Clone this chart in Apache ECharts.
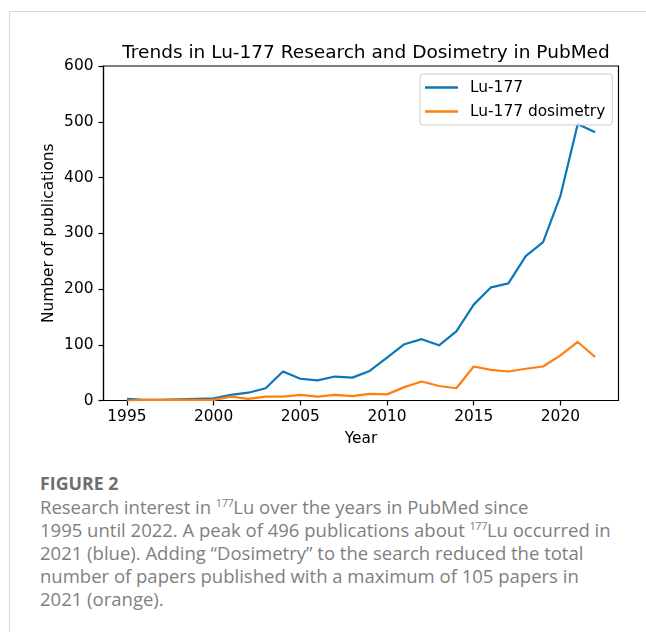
<!DOCTYPE html>
<html>
<head>
<meta charset="utf-8">
<script src="https://cdn.jsdelivr.net/npm/echarts@6/dist/echarts.min.js"></script>
<style>
  html, body { margin: 0; padding: 0; background: #fff; }
  #page { position: relative; width: 646px; height: 632px; overflow: hidden; background: #fff; }
  #frame { position: absolute; left: 9px; top: 11px; width: 700px; height: 700px;
           border-top: 1px solid #d9d9d9; border-left: 1px solid #d9d9d9; }
  #chart { position: absolute; left: 0; top: 0; width: 646px; height: 460px; }
  #caption { position: absolute; left: 40px; top: 472px; width: 606px;
             font-family: "Open Sans", sans-serif; color: #7f7f7f; font-size: 18.5px; line-height: 23px; }
  #caption .fig { font-weight: bold; color: #6e6e6e; font-size: 17.8px; }
  #caption sup { font-size: 11px; vertical-align: 7px; line-height: 0; letter-spacing: -0.5px; }
</style>
</head>
<body>
<div id="page">
  <div id="frame"></div>
  <div id="chart"></div>
  <div id="caption">
    <div class="fig">FIGURE 2</div>
    <div>Research interest in <sup>177</sup>Lu over the years in PubMed since<br>1995 until 2022. A peak of 496 publications about <sup>177</sup>Lu occurred in<br>2021 (blue). Adding “Dosimetry” to the search reduced the total<br>number of papers published with a maximum of 105 papers in<br>2021 (orange).</div>
  </div>
</div>
<script>
// Publication counts per year in PubMed
const years = [1995, 1996, 1997, 1998, 1999, 2000, 2001, 2002, 2003, 2004, 2005, 2006, 2007, 2008,
               2009, 2010, 2011, 2012, 2013, 2014, 2015, 2016, 2017, 2018, 2019, 2020, 2021, 2022];
const lu177 = [3, 1, 1, 2, 3, 4, 10, 14, 22, 52, 39, 36, 43, 41,
               53, 77, 101, 110, 99, 124, 172, 203, 210, 259, 284, 367, 496, 481];
const lu177Dosimetry = [0, 1, 1, 1, 1, 1, 7, 3, 7, 7, 10, 7, 10, 8,
                        12, 11, 24, 34, 26, 22, 61, 55, 52, 57, 61, 81, 105, 78];
const xTicks = [1995, 2000, 2005, 2010, 2015, 2020];
const yTicks = [0, 100, 200, 300, 400, 500, 600];
const seriesNames = ['Lu-177', 'Lu-177 dosimetry'];

const pairs = (vals) => years.map((y, i) => [y, vals[i]]);
const FONT = 'DejaVu Sans';
const FS = 15.4;
const chart = echarts.init(document.getElementById('chart'), null, { renderer: 'canvas' });

chart.setOption({
  animation: false,
  title: {
    text: 'Trends in Lu-177 Research and Dosimetry in PubMed',
    left: 361, top: 39, textAlign: 'center',
    textStyle: { fontFamily: FONT, fontSize: 18.5, fontWeight: 'normal', color: '#000' }
  },
  grid: {
    left: 103.5, top: 66, right: 27.5, bottom: 59.5,
    show: true, borderColor: '#000', borderWidth: 1.2, backgroundColor: 'transparent'
  },
  legend: {
    orient: 'vertical', left: 420, top: 74,
    padding: [6, 7, 6, 5],
    itemWidth: 33, itemHeight: 14, itemGap: 9,
    borderColor: '#cccccc', borderWidth: 1, borderRadius: 3,
    backgroundColor: 'rgba(255,255,255,0.8)',
    textStyle: { fontFamily: FONT, fontSize: FS, color: '#000', padding: [0, 0, 0, 7] },
    data: seriesNames.map(n => ({ name: n, icon: 'path://M0,0 L40,0 L40,3 L0,3 Z' }))
  },
  xAxis: {
    type: 'value', min: 1993.65, max: 2023.35,
    name: 'Year', nameLocation: 'middle', nameGap: 31, nameMoveOverlap: false,
    nameTextStyle: { fontFamily: FONT, fontSize: FS, color: '#000' },
    axisLine: { show: true, lineStyle: { color: '#000', width: 1.2 } },
    axisTick: { show: true, inside: false, length: 5, lineStyle: { color: '#000', width: 1.2 }, customValues: xTicks },
    axisLabel: { show: true, margin: 9, fontFamily: FONT, fontSize: FS, color: '#000',
                 customValues: xTicks, formatter: (v) => String(v) },
    splitLine: { show: false }
  },
  yAxis: {
    type: 'value', min: 0, max: 600, interval: 100,
    name: 'Number of publications', nameLocation: 'middle', nameGap: 47, nameRotate: 90,
    nameMoveOverlap: false,
    nameTextStyle: { fontFamily: FONT, fontSize: FS, color: '#000' },
    axisLine: { show: true, lineStyle: { color: '#000', width: 1.2 } },
    axisTick: { show: true, inside: false, length: 5, lineStyle: { color: '#000', width: 1.2 }, customValues: yTicks },
    axisLabel: { show: true, margin: 10, fontFamily: FONT, fontSize: FS, color: '#000',
                 customValues: yTicks, formatter: (v) => String(v) },
    splitLine: { show: false }
  },
  series: [
    {
      name: seriesNames[0], type: 'line', data: pairs(lu177),
      symbol: 'none', color: '#0b76b8',
      lineStyle: { width: 2.2, color: '#0b76b8', join: 'round' }
    },
    {
      name: seriesNames[1], type: 'line', data: pairs(lu177Dosimetry),
      symbol: 'none', color: '#ff7f0e',
      lineStyle: { width: 2.2, color: '#ff7f0e', join: 'round' }
    }
  ]
});
</script>
</body>
</html>
